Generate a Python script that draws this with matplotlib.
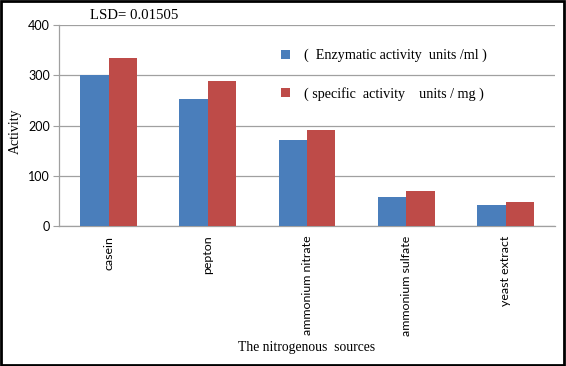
import matplotlib
matplotlib.use("Agg")
import matplotlib.pyplot as plt
import numpy as np
from matplotlib.patches import Rectangle

categories = ["casein", "pepton", "ammonium nitrate", "ammonium sulfate", "yeast extract"]
enzymatic = [300, 253, 172, 57, 42]
specific = [334, 289, 192, 69, 48]
series_labels = ["(  Enzymatic activity  units /ml )", "( specific  activity    units / mg )"]
yticks = [0, 100, 200, 300, 400]

blue = "#4a7ebb"
red = "#be4b48"

fig = plt.figure(figsize=(5.66, 3.66), dpi=100)
ax = fig.add_axes([0.104, 0.3825, 0.877, 0.549])

x = np.arange(len(categories))
w = 0.285
ax.bar(x - w/2, enzymatic, w, color=blue, label=series_labels[0], zorder=3)
ax.bar(x + w/2, specific, w, color=red, label=series_labels[1], zorder=3)

ax.set_xlim(-0.5, len(categories) - 0.5)
ax.set_ylim(0, 400)
ax.set_yticks(yticks)
ax.set_yticklabels([str(t) for t in yticks], fontsize=9, family="Lato")
ax.set_xticks(x)
ax.set_xticklabels(categories, rotation=90, fontsize=8.9, family="Lato")
ax.grid(axis="y", color="#a0a0a0", linewidth=0.9, zorder=0)
for s in ["top", "right"]:
    ax.spines[s].set_visible(False)
for s in ["left", "bottom"]:
    ax.spines[s].set_color("#a0a0a0")
    ax.spines[s].set_linewidth(0.9)
ax.tick_params(axis="y", length=4, color="#a0a0a0", pad=2.5)
ax.tick_params(axis="x", length=0, pad=7)

ax.set_ylabel("Activity", family="Liberation Serif", fontsize=10, va="center")
ax.yaxis.set_label_coords(-0.088, 0.47)
ax.set_xlabel("The nitrogenous  sources", family="Liberation Serif", fontsize=9.8, va="center")
ax.xaxis.set_label_coords(0.5, -0.607)

fig.text(0.159, 0.958, "LSD= 0.01505", family="Liberation Serif", fontsize=10.6, va="center")

ax.legend(loc="upper left", bbox_to_anchor=(0.422, 0.945), frameon=False,
          prop={"family": "Liberation Serif", "size": 10.2},
          handlelength=0.6, handleheight=0.6, labelspacing=1.75, handletextpad=1.0)

fig.patches.append(Rectangle((0.002, 0.003), 0.995, 0.994, transform=fig.transFigure,
                             fill=False, edgecolor="black", linewidth=2))

fig.savefig("out.png", dpi=100)
